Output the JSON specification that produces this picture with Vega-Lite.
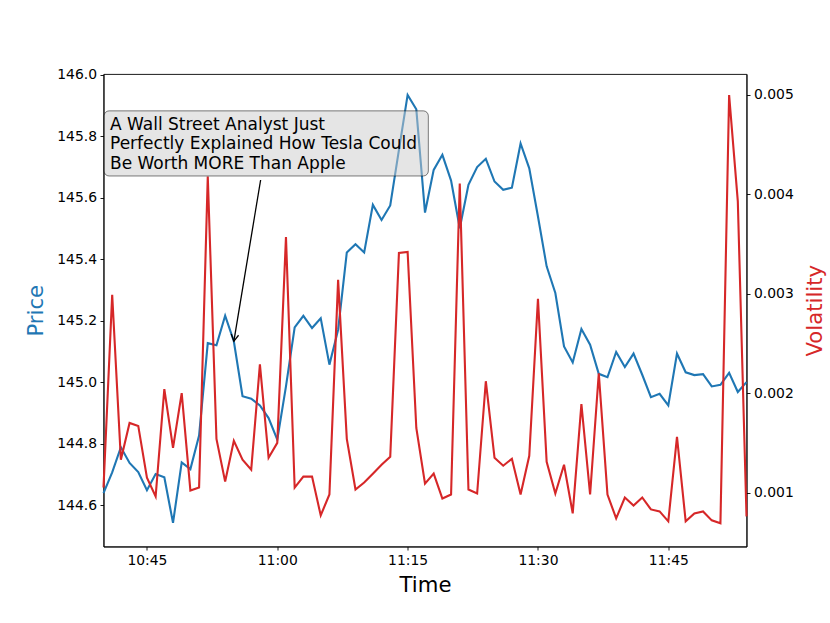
{
  "$schema": "https://vega.github.io/schema/vega-lite/v6.json",
  "autosize": {"type": "none"},
  "padding": {"left": 103.5, "top": 74, "right": 83.5, "bottom": 76.5},
  "width": 643,
  "height": 472.5,
  "background": "white",
  "config": {
    "font": "DejaVu Sans",
    "view": {"stroke": "black", "strokeWidth": 0.9},
    "axis": {
      "labelFont": "DejaVu Sans", "labelFontSize": 13.9, "labelColor": "black",
      "tickColor": "black", "tickSize": 3.5, "tickWidth": 0.9, "labelPadding": 3.5,
      "domainColor": "black", "domainWidth": 0.9, "grid": false,
      "titleFont": "DejaVu Sans", "titleFontSize": 21.2, "titleFontWeight": "normal"
    }
  },
  "datasets": {
    "series": [
      {"t": "2024-01-01T10:40:00", "price": 144.639, "vol": 0.00105},
      {"t": "2024-01-01T10:41:00", "price": 144.706, "vol": 0.00299},
      {"t": "2024-01-01T10:42:00", "price": 144.788, "vol": 0.00133},
      {"t": "2024-01-01T10:43:00", "price": 144.737, "vol": 0.00170},
      {"t": "2024-01-01T10:44:00", "price": 144.707, "vol": 0.00167},
      {"t": "2024-01-01T10:45:00", "price": 144.648, "vol": 0.00115},
      {"t": "2024-01-01T10:46:00", "price": 144.701, "vol": 0.00096},
      {"t": "2024-01-01T10:47:00", "price": 144.690, "vol": 0.00204},
      {"t": "2024-01-01T10:48:00", "price": 144.542, "vol": 0.00145},
      {"t": "2024-01-01T10:49:00", "price": 144.739, "vol": 0.00200},
      {"t": "2024-01-01T10:50:00", "price": 144.717, "vol": 0.00102},
      {"t": "2024-01-01T10:51:00", "price": 144.826, "vol": 0.00105},
      {"t": "2024-01-01T10:52:00", "price": 145.127, "vol": 0.00418},
      {"t": "2024-01-01T10:53:00", "price": 145.120, "vol": 0.00154},
      {"t": "2024-01-01T10:54:00", "price": 145.216, "vol": 0.00111},
      {"t": "2024-01-01T10:55:00", "price": 145.133, "vol": 0.00152},
      {"t": "2024-01-01T10:56:00", "price": 144.954, "vol": 0.00133},
      {"t": "2024-01-01T10:57:00", "price": 144.946, "vol": 0.00123},
      {"t": "2024-01-01T10:58:00", "price": 144.924, "vol": 0.00229},
      {"t": "2024-01-01T10:59:00", "price": 144.883, "vol": 0.00135},
      {"t": "2024-01-01T11:00:00", "price": 144.813, "vol": 0.00150},
      {"t": "2024-01-01T11:01:00", "price": 144.986, "vol": 0.00357},
      {"t": "2024-01-01T11:02:00", "price": 145.178, "vol": 0.00105},
      {"t": "2024-01-01T11:03:00", "price": 145.216, "vol": 0.00116},
      {"t": "2024-01-01T11:04:00", "price": 145.176, "vol": 0.00116},
      {"t": "2024-01-01T11:05:00", "price": 145.208, "vol": 0.00077},
      {"t": "2024-01-01T11:06:00", "price": 145.057, "vol": 0.00098},
      {"t": "2024-01-01T11:07:00", "price": 145.170, "vol": 0.00314},
      {"t": "2024-01-01T11:08:00", "price": 145.422, "vol": 0.00154},
      {"t": "2024-01-01T11:09:00", "price": 145.449, "vol": 0.00103},
      {"t": "2024-01-01T11:10:00", "price": 145.422, "vol": 0.00110},
      {"t": "2024-01-01T11:11:00", "price": 145.577, "vol": 0.00119},
      {"t": "2024-01-01T11:12:00", "price": 145.528, "vol": 0.00128},
      {"t": "2024-01-01T11:13:00", "price": 145.575, "vol": 0.00136},
      {"t": "2024-01-01T11:14:00", "price": 145.756, "vol": 0.00341},
      {"t": "2024-01-01T11:15:00", "price": 145.935, "vol": 0.00342},
      {"t": "2024-01-01T11:16:00", "price": 145.888, "vol": 0.00165},
      {"t": "2024-01-01T11:17:00", "price": 145.552, "vol": 0.00109},
      {"t": "2024-01-01T11:18:00", "price": 145.691, "vol": 0.00119},
      {"t": "2024-01-01T11:19:00", "price": 145.740, "vol": 0.00094},
      {"t": "2024-01-01T11:20:00", "price": 145.656, "vol": 0.00098},
      {"t": "2024-01-01T11:21:00", "price": 145.501, "vol": 0.00411},
      {"t": "2024-01-01T11:22:00", "price": 145.642, "vol": 0.00103},
      {"t": "2024-01-01T11:23:00", "price": 145.700, "vol": 0.00099},
      {"t": "2024-01-01T11:24:00", "price": 145.727, "vol": 0.00212},
      {"t": "2024-01-01T11:25:00", "price": 145.653, "vol": 0.00135},
      {"t": "2024-01-01T11:26:00", "price": 145.626, "vol": 0.00127},
      {"t": "2024-01-01T11:27:00", "price": 145.633, "vol": 0.00134},
      {"t": "2024-01-01T11:28:00", "price": 145.777, "vol": 0.00098},
      {"t": "2024-01-01T11:29:00", "price": 145.696, "vol": 0.00137},
      {"t": "2024-01-01T11:30:00", "price": 145.539, "vol": 0.00295},
      {"t": "2024-01-01T11:31:00", "price": 145.377, "vol": 0.00131},
      {"t": "2024-01-01T11:32:00", "price": 145.290, "vol": 0.00099},
      {"t": "2024-01-01T11:33:00", "price": 145.116, "vol": 0.00128},
      {"t": "2024-01-01T11:34:00", "price": 145.064, "vol": 0.00079},
      {"t": "2024-01-01T11:35:00", "price": 145.173, "vol": 0.00189},
      {"t": "2024-01-01T11:36:00", "price": 145.122, "vol": 0.00098},
      {"t": "2024-01-01T11:37:00", "price": 145.027, "vol": 0.00220},
      {"t": "2024-01-01T11:38:00", "price": 145.016, "vol": 0.00098},
      {"t": "2024-01-01T11:39:00", "price": 145.098, "vol": 0.00074},
      {"t": "2024-01-01T11:40:00", "price": 145.049, "vol": 0.00095},
      {"t": "2024-01-01T11:41:00", "price": 145.093, "vol": 0.00087},
      {"t": "2024-01-01T11:42:00", "price": 145.024, "vol": 0.00095},
      {"t": "2024-01-01T11:43:00", "price": 144.951, "vol": 0.00083},
      {"t": "2024-01-01T11:44:00", "price": 144.962, "vol": 0.00081},
      {"t": "2024-01-01T11:45:00", "price": 144.924, "vol": 0.00071},
      {"t": "2024-01-01T11:46:00", "price": 145.093, "vol": 0.00156},
      {"t": "2024-01-01T11:47:00", "price": 145.032, "vol": 0.00071},
      {"t": "2024-01-01T11:48:00", "price": 145.023, "vol": 0.00079},
      {"t": "2024-01-01T11:49:00", "price": 145.026, "vol": 0.00081},
      {"t": "2024-01-01T11:50:00", "price": 144.986, "vol": 0.00072},
      {"t": "2024-01-01T11:51:00", "price": 144.991, "vol": 0.00069},
      {"t": "2024-01-01T11:52:00", "price": 145.030, "vol": 0.00500},
      {"t": "2024-01-01T11:53:00", "price": 144.968, "vol": 0.00393},
      {"t": "2024-01-01T11:54:00", "price": 145.000, "vol": 0.00076}
    ],
    "box": [
      {"t1": "2024-01-01T10:40:04", "t2": "2024-01-01T11:17:23", "p1": 145.883, "p2": 145.671}
    ],
    "note": [
      {"t": "2024-01-01T10:40:45", "price": 145.821, "label": "A Wall Street Analyst Just\nPerfectly Explained How Tesla Could\nBe Worth MORE Than Apple"}
    ],
    "arrow": [
      {"t1": "2024-01-01T10:58:05", "p1": 145.658, "t2": "2024-01-01T10:55:00", "p2": 145.133}
    ]
  },
  "resolve": {"scale": {"y": "independent"}},
  "layer": [
    {
      "data": {"name": "series"},
      "mark": {"type": "line", "color": "#1f77b4", "strokeWidth": 2.1},
      "encoding": {
        "x": {
          "field": "t", "type": "temporal", "title": "Time",
          "scale": {"domain": [
            {"year": 2024, "month": 1, "date": 1, "hours": 10, "minutes": 40},
            {"year": 2024, "month": 1, "date": 1, "hours": 11, "minutes": 54}
          ], "nice": false},
          "axis": {"format": "%H:%M", "values": [
            {"year": 2024, "month": 1, "date": 1, "hours": 10, "minutes": 45},
            {"year": 2024, "month": 1, "date": 1, "hours": 11, "minutes": 0},
            {"year": 2024, "month": 1, "date": 1, "hours": 11, "minutes": 15},
            {"year": 2024, "month": 1, "date": 1, "hours": 11, "minutes": 30},
            {"year": 2024, "month": 1, "date": 1, "hours": 11, "minutes": 45}
          ], "titlePadding": 7, "titleColor": "black"}
        },
        "y": {
          "field": "price", "type": "quantitative", "title": "Price",
          "scale": {"domain": [144.465, 146.003], "nice": false, "zero": false},
          "axis": {"orient": "left", "values": [144.6, 144.8, 145.0, 145.2, 145.4, 145.6, 145.8, 146.0], "format": ".1f", "titleColor": "#1f77b4", "titlePadding": 10}
        }
      }
    },
    {
      "data": {"name": "series"},
      "mark": {"type": "line", "color": "#d62728", "strokeWidth": 2.1},
      "encoding": {
        "x": {"field": "t", "type": "temporal"},
        "y": {
          "field": "vol", "type": "quantitative", "title": "Volatility",
          "scale": {"domain": [0.000457, 0.005211], "nice": false, "zero": false},
          "axis": {"orient": "right", "values": [0.001, 0.002, 0.003, 0.004, 0.005], "format": ".3f", "titleColor": "#d62728", "titleAngle": 270, "titleBaseline": "top", "titlePadding": 11}
        }
      }
    },
    {
      "data": {"name": "box"},
      "mark": {"type": "rect", "fill": "#cccccc", "fillOpacity": 0.5, "stroke": "black", "strokeOpacity": 0.5, "strokeWidth": 1, "cornerRadius": 5},
      "encoding": {
        "x": {"field": "t1", "type": "temporal"},
        "x2": {"field": "t2"},
        "y": {"field": "p1", "type": "quantitative", "scale": {"domain": [144.465, 146.003], "nice": false, "zero": false}, "axis": null},
        "y2": {"field": "p2"}
      }
    },
    {
      "data": {"name": "note"},
      "mark": {"type": "text", "align": "left", "baseline": "alphabetic", "font": "DejaVu Sans", "fontSize": 17, "lineHeight": 19.3, "lineBreak": "\n", "color": "black"},
      "encoding": {
        "x": {"field": "t", "type": "temporal"},
        "y": {"field": "price", "type": "quantitative", "scale": {"domain": [144.465, 146.003], "nice": false, "zero": false}, "axis": null},
        "text": {"field": "label"}
      }
    },
    {
      "data": {"name": "arrow"},
      "mark": {"type": "rule", "color": "black", "strokeWidth": 1.3},
      "encoding": {
        "x": {"field": "t1", "type": "temporal"},
        "x2": {"field": "t2"},
        "y": {"field": "p1", "type": "quantitative", "scale": {"domain": [144.465, 146.003], "nice": false, "zero": false}, "axis": null},
        "y2": {"field": "p2"}
      }
    },
    {
      "data": {"name": "arrow"},
      "mark": {"type": "point", "shape": "M -0.55 -1 L 0 0 L 0.55 -1", "filled": false, "stroke": "black", "strokeWidth": 1.3, "size": 180, "angle": 9.2, "opacity": 1},
      "encoding": {
        "x": {"field": "t2", "type": "temporal"},
        "y": {"field": "p2", "type": "quantitative", "scale": {"domain": [144.465, 146.003], "nice": false, "zero": false}, "axis": null}
      }
    }
  ]
}
